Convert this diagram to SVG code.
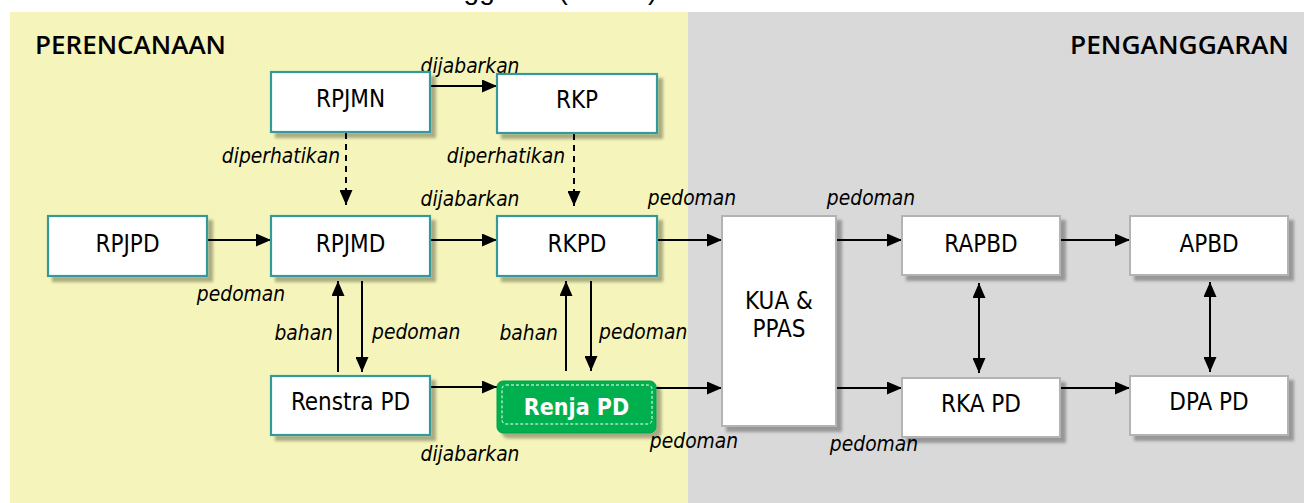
<svg xmlns="http://www.w3.org/2000/svg" width="1304" height="503" viewBox="0 0 1304 503">
<defs>
<filter id="sh" x="-10%" y="-10%" width="130%" height="140%">
<feDropShadow dx="5" dy="5" stdDeviation="1.6" flood-color="#000" flood-opacity="0.3"/>
</filter>
<marker id="ah" markerWidth="15" markerHeight="13" refX="15" refY="6.5" orient="auto" markerUnits="userSpaceOnUse">
<path d="M0,0 L15,6.5 L0,13 z" fill="#000"/>
</marker>
<marker id="as" markerWidth="15" markerHeight="13" refX="0" refY="6.5" orient="auto" markerUnits="userSpaceOnUse">
<path d="M15,0 L0,6.5 L15,13 z" fill="#000"/>
</marker>
<style>
.pl{fill:#fff;stroke:#35999a;stroke-width:2.2;filter:url(#sh)}
.bg{fill:#fff;stroke:#b3b3b3;stroke-width:2;filter:url(#sh)}
.t{font-family:'DejaVu Sans Condensed','DejaVu Sans',sans-serif;font-stretch:condensed;font-size:24px;fill:#000;text-anchor:middle}
.lb{font-family:'DejaVu Sans Condensed','DejaVu Sans',sans-serif;font-stretch:condensed;font-style:italic;font-size:20.8px;fill:#000}
.hd{font-family:'Open Sans','DejaVu Sans',sans-serif;font-weight:600;font-size:25px;fill:#000}
.c{stroke:#000;stroke-width:2;fill:none;marker-end:url(#ah)}
.d{stroke:#000;stroke-width:2;fill:none;stroke-dasharray:6 5;marker-end:url(#ah)}
.b{stroke:#000;stroke-width:2;fill:none;marker-end:url(#ah);marker-start:url(#as)}
</style>
</defs>
<rect x="0" y="0" width="1304" height="503" fill="#fff"/>
<text x="448" y="-1" style="font-family:'Liberation Sans',sans-serif;font-size:28px">nggaran (</text>
<text x="648" y="-1" style="font-family:'Liberation Sans',sans-serif;font-size:28px">)</text>
<rect x="10" y="12" width="678" height="491" fill="#f5f5bb"/>
<rect x="688" y="12" width="616" height="491" fill="#d9d9d9"/>
<text class="hd" x="35" y="54" textLength="191" lengthAdjust="spacingAndGlyphs">PERENCANAAN</text>
<text class="hd" x="1070" y="54" textLength="219" lengthAdjust="spacingAndGlyphs">PENGANGGARAN</text>

<g id="connectors">
<line class="c" x1="431" y1="86" x2="497" y2="86"/>
<line class="d" x1="346" y1="133" x2="346" y2="205"/>
<line class="d" x1="574" y1="134" x2="574" y2="206"/>
<line class="c" x1="208" y1="240" x2="271" y2="240"/>
<line class="c" x1="431" y1="240" x2="497" y2="240"/>
<line class="c" x1="338" y1="372" x2="338" y2="281"/>
<line class="c" x1="362" y1="281" x2="362" y2="372"/>
<line class="c" x1="566" y1="371" x2="566" y2="281"/>
<line class="c" x1="591" y1="281" x2="591" y2="371"/>
<line class="c" x1="431" y1="387" x2="497" y2="387"/>
<line class="c" x1="657" y1="240" x2="722" y2="240"/>
<line class="c" x1="656" y1="388" x2="722" y2="388"/>
<line class="c" x1="837" y1="240" x2="902" y2="240"/>
<line class="c" x1="837" y1="388" x2="902" y2="388"/>
<line class="c" x1="1061" y1="240" x2="1130" y2="240"/>
<line class="c" x1="1061" y1="388" x2="1130" y2="388"/>
<line class="b" x1="979" y1="283" x2="979" y2="373"/>
<line class="b" x1="1210" y1="282" x2="1210" y2="372"/>
<text class="lb" x="470" y="73" text-anchor="middle">dijabarkan</text>
<text class="lb" x="340" y="163" text-anchor="end">diperhatikan</text>
<text class="lb" x="565" y="163" text-anchor="end">diperhatikan</text>
<text class="lb" x="470" y="206" text-anchor="middle">dijabarkan</text>
<text class="lb" x="241" y="301" text-anchor="middle">pedoman</text>
<text class="lb" x="333" y="340" text-anchor="end">bahan</text>
<text class="lb" x="372" y="339">pedoman</text>
<text class="lb" x="558" y="340" text-anchor="end">bahan</text>
<text class="lb" x="599" y="339">pedoman</text>
<text class="lb" x="470" y="461" text-anchor="middle">dijabarkan</text>
<text class="lb" x="692" y="205" text-anchor="middle">pedoman</text>
<text class="lb" x="871" y="205" text-anchor="middle">pedoman</text>
<text class="lb" x="694" y="448" text-anchor="middle">pedoman</text>
<text class="lb" x="874" y="451" text-anchor="middle">pedoman</text>
</g>

<g id="rpjmn"><rect class="pl" x="271" y="72" width="159" height="60"/><text class="t" x="350.5" y="107">RPJMN</text></g>
<g id="rkp"><rect class="pl" x="497" y="74" width="160" height="59"/><text class="t" x="577" y="108">RKP</text></g>
<g id="rpjpd"><rect class="pl" x="48" y="216" width="159" height="60"/><text class="t" x="127.5" y="252">RPJPD</text></g>
<g id="rpjmd"><rect class="pl" x="271" y="216" width="159" height="60"/><text class="t" x="350.5" y="252">RPJMD</text></g>
<g id="rkpd"><rect class="pl" x="497" y="216" width="160" height="60"/><text class="t" x="577" y="252">RKPD</text></g>
<g id="renstra"><rect class="pl" x="271" y="376" width="159" height="59"/><text class="t" x="350.5" y="410">Renstra PD</text></g>
<g id="renja">
<rect x="497" y="381" width="159" height="52" rx="6" fill="#00b050" stroke="#00a048" stroke-width="1" filter="url(#sh)"/>
<rect x="502" y="385" width="150" height="39" rx="4" fill="none" stroke="#fff" stroke-width="1" stroke-dasharray="3 2"/>
<text class="t" x="576.5" y="415" style="font-weight:bold;fill:#fff;font-size:23px">Renja PD</text>
</g>
<g id="kua"><rect class="bg" x="722" y="216" width="114" height="210"/><text class="t" x="779" y="309">KUA &amp;</text><text class="t" x="779" y="337">PPAS</text></g>
<g id="rapbd"><rect class="bg" x="902" y="216" width="158" height="59"/><text class="t" x="981" y="252">RAPBD</text></g>
<g id="apbd"><rect class="bg" x="1130" y="216" width="158" height="59"/><text class="t" x="1209" y="252">APBD</text></g>
<g id="rkapd"><rect class="bg" x="902" y="378" width="158" height="59"/><text class="t" x="981" y="412">RKA PD</text></g>
<g id="dpapd"><rect class="bg" x="1130" y="376" width="158" height="59"/><text class="t" x="1209" y="410">DPA PD</text></g>
</svg>
